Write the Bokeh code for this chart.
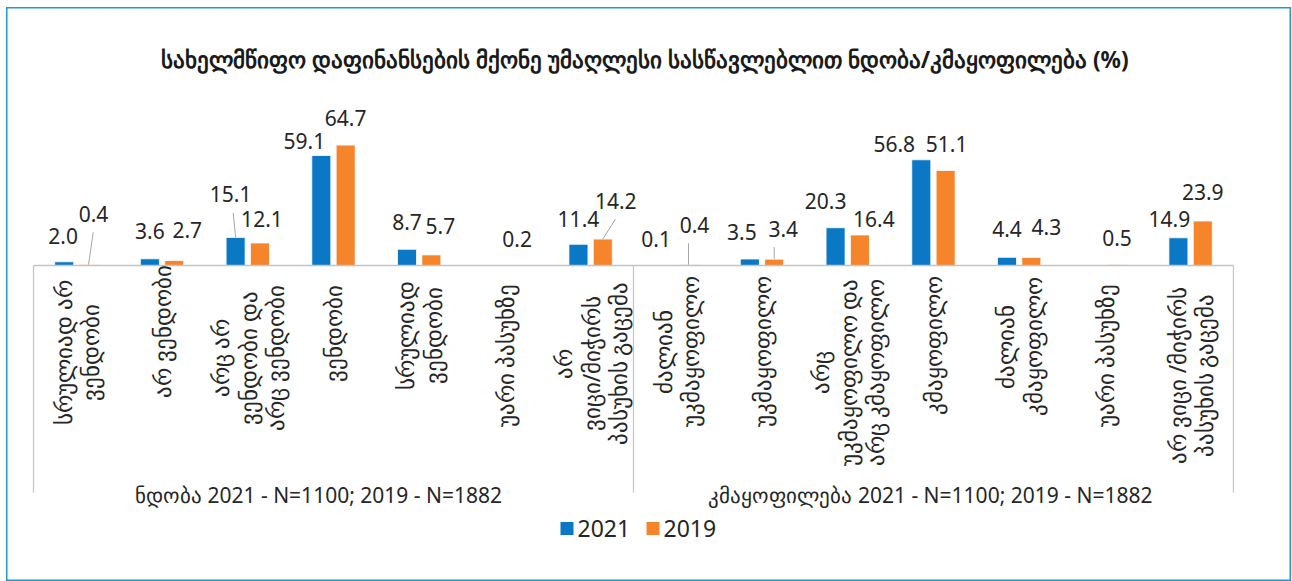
import math
from bokeh.plotting import figure
from bokeh.models import Range1d, ColumnDataSource
from bokeh.core.properties import value
from bokeh.embed import file_html
from bokeh.resources import INLINE

# ---------------- data ----------------
title_text = "სახელმწიფო დაფინანსების მქონე უმაღლესი სასწავლებლით ნდობა/კმაყოფილება (%)"
series = ["2021", "2019"]
categories = [
    "სრულიად არ\nვენდობი",
    "არ ვენდობი",
    "არც არ\nვენდობი და\nარც ვენდობი",
    "ვენდობი",
    "სრულიად\nვენდობი",
    "უარი პასუხზე",
    "არ\nვიცი/მიჭირს\nპასუხის გაცემა",
    "ძალიან\nუკმაყოფილო",
    "უკმაყოფილო",
    "არც\nუკმაყოფილო და\nარც კმაყოფილო",
    "კმაყოფილო",
    "ძალიან\nკმაყოფილო",
    "უარი პასუხზე",
    "არ ვიცი /მიჭირს\nპასუხის გაცემა",
]
groups = ["ნდობა 2021 - N=1100; 2019 - N=1882", "კმაყოფილება 2021 - N=1100; 2019 - N=1882"]
group_sizes = [7, 7]
values_2021 = [2.0, 3.6, 15.1, 59.1, 8.7, None, 11.4, 0.1, 3.5, 20.3, 56.8, 4.4, None, 14.9]
values_2019 = [0.4, 2.7, 12.1, 64.7, 5.7, 0.2, 14.2, 0.4, 3.4, 16.4, 51.1, 4.3, 0.5, 23.9]

# ---------------- layout (screen px of the reference) ----------------
OX, OY = 6, 7          # figure origin on the page
W, H = 1285, 574
AXIS_LEFT = 33.0
CAT_W = 85.71
BASE_Y = 265.0
PPU = 1.861
BAR_OFF = 0.142
BAR_W = 0.222

# label lifts above bar top (px) and horizontal shifts (px)
lift_2021 = [26, 28, 43, 15, 27, None, 25.5, 26.5, 27, 27, 16, 28, None, 19]
lift_2019 = [51, 30, 24, 27.5, 28.5, 26.5, 38.5, 40, 30.5, 16, 26.5, 30, 27, 29.5]
shift_2021 = [-1, 0, -5, -17, 0, None, 0, -8, -8, -10, -27, 0, None, -9]
shift_2019 = [5, 13, 2, 0, 9, 0, 13, 6, 9, 14, 1, 15, 0, 0]
leader_series = ["2019", "2021", "2019", "2019", "2019"]
leader_index = [0, 2, 6, 7, 8]
leader_shift = [4.7, -2.4, 12.7, 0, 0]
cat_label_mid = [352, 331, 357.5, 333, 335, 355, 363, 351, 351, 372, 345, 346, 355, 375]
group_label_shift = [-15, -3]

COL_2021 = "#0A78C4"
COL_2019 = "#F5842A"
TXT = "#262626"
GRID = "#C4C4C4"
FONT = "Noto Sans"


def X(sx):
    return (sx - AXIS_LEFT) / CAT_W


def Y(sy):
    return (BASE_Y - sy) / PPU


def dxu(px):
    return px / CAT_W


def dyu(px):
    return px / PPU


x0 = X(OX)
x1 = X(OX + W)
y1 = Y(OY)
y0 = Y(OY + H)

p = figure(width=W, height=H, x_range=Range1d(x0, x1), y_range=Range1d(y0, y1),
           output_backend="svg", toolbar_location=None, min_border=0,
           margin=(OY, 0, 0, OX),
           background_fill_color="white", border_fill_color="white")
p.xaxis.visible = False
p.yaxis.visible = False
p.xgrid.visible = False
p.ygrid.visible = False
p.outline_line_color = "#1A9AD6"
p.outline_line_width = 2

# ---------------- bars ----------------
vals = {"2021": values_2021, "2019": values_2019}
lifts = {"2021": lift_2021, "2019": lift_2019}
shifts = {"2021": shift_2021, "2019": shift_2019}
offs = {"2021": -BAR_OFF, "2019": BAR_OFF}
cols = {"2021": COL_2021, "2019": COL_2019}

for s in series:
    xs, tops, lx, ly, lt = [], [], [], [], []
    for i, v in enumerate(vals[s]):
        if v is None:
            continue
        bx = i + 0.5 + offs[s]
        xs.append(bx)
        tops.append(v)
        lx.append(bx + dxu(shifts[s][i]))
        ly.append(v + dyu(lifts[s][i]))
        lt.append(f"{v:.1f}")
    src = ColumnDataSource(dict(x=xs, top=tops))
    p.vbar(x="x", top="top", bottom=0, width=BAR_W, source=src,
           fill_color=cols[s], line_color="white", line_width=0.8)
    p.text(x=lx, y=ly, text=lt, text_align="center", text_baseline="middle",
           text_font=value(FONT), text_font_size="21px", text_color=TXT)

# leader lines
lx0, ly0, lx1, ly1 = [], [], [], []
for s, i, sh in zip(leader_series, leader_index, leader_shift):
    v = vals[s][i]
    bx = i + 0.5 + offs[s]
    lab_y = v + dyu(lifts[s][i])
    lx0.append(bx + dxu(sh))
    ly0.append(lab_y - dyu(18.5))
    lx1.append(bx)
    ly1.append(v)
p.segment(x0=lx0, y0=ly0, x1=lx1, y1=ly1, line_color="#A6A6A6", line_width=1)

# ---------------- axis line & group dividers ----------------
n = len(categories)
p.segment(x0=[0], y0=[0], x1=[n], y1=[0], line_color=GRID, line_width=1.5)
div_x = [0]
acc = 0
for g in group_sizes:
    acc += g
    div_x.append(acc)
p.segment(x0=div_x, y0=[0] * len(div_x), x1=div_x, y1=[Y(492)] * len(div_x),
          line_color=GRID, line_width=1.2)

# category labels
p.text(x=[i + 0.5 for i in range(n)], y=[Y(m) for m in cat_label_mid], text=categories,
       angle=math.pi / 2, text_align="center", text_baseline="middle",
       text_font=value(FONT), text_font_size="23px", text_color=TXT, text_line_height=0.86)

# group labels
gx = []
start = 0
for g, sh in zip(group_sizes, group_label_shift):
    gx.append(start + g / 2 + dxu(sh))
    start += g
p.text(x=gx, y=[Y(494)] * len(gx), text=groups, text_align="center", text_baseline="middle",
       text_font=value(FONT), text_font_size="21px", text_color=TXT)

# title
p.text(x=[X(644.5)], y=[Y(59)], text=[title_text], text_align="center", text_baseline="middle",
       text_font=value(FONT), text_font_size="22.6px", text_font_style="bold", text_color="#1A1A1A")

# legend (square swatches + labels)
leg_sq_x = [566.5, 652.5]
leg_tx_x = [577, 663]
leg_y = 528
p.rect(x=[X(v) for v in leg_sq_x], y=[Y(leg_y)] * 2, width=13, height=13,
       width_units="screen", height_units="screen",
       fill_color=[COL_2021, COL_2019], line_color=None)
p.text(x=[X(v) for v in leg_tx_x], y=[Y(leg_y)] * 2, text=series, text_align="left",
       text_baseline="middle", text_font=value(FONT), text_font_size="23px", text_color=TXT)

open("out.html", "w").write(file_html(p, INLINE))
